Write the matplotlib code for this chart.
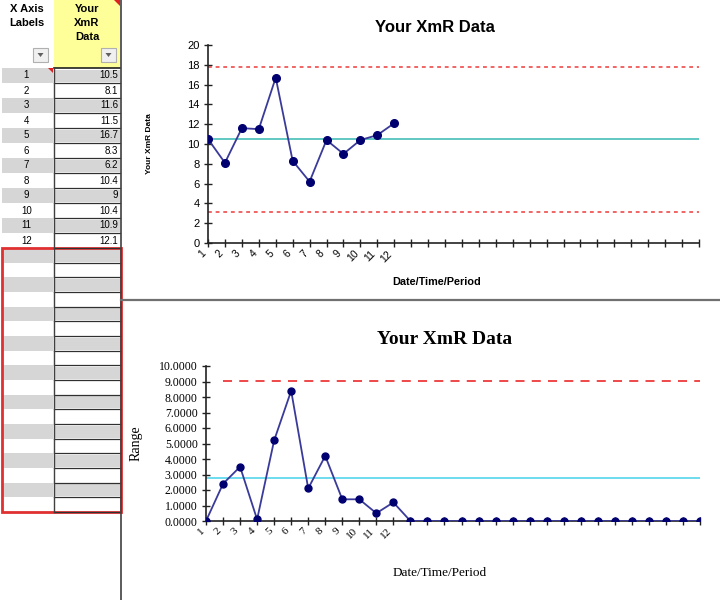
import matplotlib
matplotlib.use("Agg")
import matplotlib.pyplot as plt
from matplotlib.patches import Rectangle, Polygon
from matplotlib.ticker import FormatStrFormatter, MultipleLocator, FixedLocator, FixedFormatter

# ---------------- data ----------------
categories = list(range(1, 31))
x_labels = [str(i) for i in range(1, 13)]
xmr_values = [10.5, 8.1, 11.6, 11.5, 16.7, 8.3, 6.2, 10.4, 9, 10.4, 10.9, 12.1]
table_values = ["10.5", "8.1", "11.6", "11.5", "16.7", "8.3", "6.2", "10.4", "9", "10.4", "10.9", "12.1"]
moving_range = [0.0, 2.4, 3.5, 0.1, 5.2, 8.4, 2.1, 4.2, 1.4, 1.4, 0.5, 1.2,
                0, 0, 0, 0, 0, 0, 0, 0, 0, 0, 0, 0, 0, 0, 0, 0, 0, 0]
x_mean = 10.48
x_ucl = 17.8
x_lcl = 3.13
mr_mean = 2.76
mr_ucl = 9.03

W, H = 720, 600
fig = plt.figure(figsize=(7.2, 6), dpi=100)

# ---------------- background / table ----------------
bg = fig.add_axes([0, 0, 1, 1])
bg.set_xlim(0, W)
bg.set_ylim(H, 0)
bg.axis("off")

sans = ["Liberation Sans", "DejaVu Sans"]
serif = ["Liberation Serif", "DejaVu Serif"]

c1l, c1r, c2l, c2r = 0, 53, 54, 120
head_b = 68
row_h = 15.0
n_top = len(x_labels)
box_top = head_b + n_top * row_h
row_h2 = (512 - box_top) / (len(categories) - n_top)

# header
bg.add_patch(Rectangle((c2l, 0), c2r - c2l, head_b, facecolor="#ffff99", edgecolor="none"))
bg.text((c1l + c1r) / 2, 16, "X Axis\nLabels", ha="center", va="center", fontsize=8,
        fontweight="bold", family=sans, linespacing=1.45)
bg.text((c2l + c2r) / 2, 23, "Your\nXmR\nData", ha="center", va="center", fontsize=8,
        fontweight="bold", family=sans, linespacing=1.45)
for bx in (33, 101):
    bg.add_patch(Rectangle((bx, 48), 15, 14, facecolor="#f0f0f0", edgecolor="#b0b0b0", lw=0.8))
    bg.add_patch(Polygon([(bx + 4.5, 53), (bx + 10.5, 53), (bx + 7.5, 57)], closed=True,
                         facecolor="#606060", edgecolor="none"))
bg.add_patch(Polygon([(c2r - 6, 0), (c2r, 0), (c2r, 6)], closed=True, facecolor="#e02020", edgecolor="none"))
bg.plot([c2l, c2r], [head_b, head_b], color="#202020", lw=1.2)

# rows
for i in range(len(categories)):
    if i < n_top:
        y0 = head_b + i * row_h
        h = row_h
    else:
        y0 = box_top + (i - n_top) * row_h2
        h = row_h2
    fill = "#d6d6d6" if i % 2 == 0 else "#ffffff"
    bg.add_patch(Rectangle((c1l + 2, y0), c1r - c1l - 2, h, facecolor=fill, edgecolor="none"))
    bg.add_patch(Rectangle((c2l, y0 + 1.5), c2r - c2l, h - 2.5, facecolor=fill, edgecolor="none"))
    bg.plot([c2l, c2r], [y0 + h, y0 + h], color="#303030", lw=0.9)
    if i < n_top:
        bg.text((c1l + c1r) / 2, y0 + h / 2, x_labels[i], ha="center", va="center",
                fontsize=7, family=sans)
        bg.text(c2r - 2, y0 + h / 2, table_values[i], ha="right", va="center",
                fontsize=7, family=sans)
bg.add_patch(Polygon([(c1r - 5, head_b), (c1r, head_b), (c1r, head_b + 5)], closed=True,
                     facecolor="#e02020", edgecolor="none"))
bg.plot([c1r + 0.5, c1r + 0.5], [head_b, 512], color="#404040", lw=1.0)
# red selection box
bg.add_patch(Rectangle((1.5, box_top), 119, 512 - box_top, facecolor="none", edgecolor="#e03030", lw=2))

# separators
bg.plot([121, 121], [0, 600], color="#404040", lw=1.2)
bg.plot([121, 720], [300, 300], color="#707070", lw=1.6)

# ---------------- top chart ----------------
def fx(px):
    return px / W

def fy(py):
    return 1 - py / H

ax1 = fig.add_axes([fx(208), fy(243), fx(699) - fx(208), fy(45) - fy(243)])
ax1.patch.set_alpha(0)
ax1.plot(categories[:len(xmr_values)], xmr_values, color="#3a3a9a", lw=1.3, marker="o",
         markersize=5.5, markerfacecolor="#000070", markeredgecolor="#000070", zorder=4)
ax1.hlines(x_mean, categories[0], categories[-1], color="#45bdb8", lw=1.2, zorder=2)
ax1.hlines([x_ucl, x_lcl], categories[0], categories[-1], color="#ee3a3a", lw=1.1,
           linestyles=(0, (2.5, 2.5)), zorder=2)
ax1.set_xlim(categories[0], categories[-1])
ax1.set_ylim(0, 20)
ax1.yaxis.set_major_locator(MultipleLocator(2))
ax1.xaxis.set_major_locator(FixedLocator(categories))
ax1.xaxis.set_major_formatter(FixedFormatter(x_labels + [""] * (len(categories) - len(x_labels))))
for s in ("top", "right"):
    ax1.spines[s].set_visible(False)
for s in ("left", "bottom"):
    ax1.spines[s].set_linewidth(1.2)
    ax1.spines[s].set_color("#222222")
ax1.tick_params(axis="both", direction="inout", length=6, width=1, color="#222222")
ax1.tick_params(axis="y", labelsize=8, pad=3)
ax1.tick_params(axis="x", labelsize=7.5, pad=1)
for lab in ax1.get_xticklabels():
    lab.set_rotation(45)
    lab.set_ha("right")
    lab.set_va("top")
    lab.set_fontfamily(sans)
for lab in ax1.get_yticklabels():
    lab.set_fontfamily(sans)
ax1.set_ylabel("Your XmR Data", fontsize=6, fontweight="bold", family=sans)
ax1.yaxis.set_label_coords((153 - 208) / 491, 0.5)
ax1.set_xlabel("Date/Time/Period", fontsize=7.8, fontweight="bold", family=sans)
ax1.xaxis.set_label_coords((437 - 208) / 491, (243 - 277) / 198)
fig.text(fx(435), fy(27), "Your XmR Data", ha="center", va="center", fontsize=12,
         fontweight="bold", family=sans)

# ---------------- bottom chart ----------------
ax2 = fig.add_axes([fx(206), fy(521), fx(700) - fx(206), fy(366) - fy(521)])
ax2.patch.set_alpha(0)
ax2.plot(categories, moving_range, color="#3a3a9a", lw=1.3, marker="o",
         markersize=5, markerfacecolor="#000070", markeredgecolor="#000070", zorder=4)
ax2.hlines(mr_mean, categories[0], categories[-1], color="#55d5ea", lw=1.2, zorder=2)
ax2.hlines(mr_ucl, categories[1], categories[-1], color="#ee3a3a", lw=1.3,
           linestyles=(0, (5, 4)), zorder=2)
ax2.set_xlim(categories[0], categories[-1])
ax2.set_ylim(0, 10)
ax2.yaxis.set_major_locator(MultipleLocator(1))
ax2.yaxis.set_major_formatter(FormatStrFormatter("%.4f"))
ax2.xaxis.set_major_locator(FixedLocator(categories))
ax2.xaxis.set_major_formatter(FixedFormatter(x_labels + [""] * (len(categories) - len(x_labels))))
for s in ("top", "right"):
    ax2.spines[s].set_visible(False)
for s in ("left", "bottom"):
    ax2.spines[s].set_linewidth(1.2)
    ax2.spines[s].set_color("#222222")
ax2.tick_params(axis="both", direction="inout", length=6, width=1, color="#222222")
ax2.tick_params(axis="y", labelsize=8.5, pad=3)
ax2.tick_params(axis="x", labelsize=8, pad=1)
for lab in ax2.get_xticklabels():
    lab.set_rotation(45)
    lab.set_ha("right")
    lab.set_va("top")
    lab.set_fontfamily(serif)
for lab in ax2.get_yticklabels():
    lab.set_fontfamily(serif)
ax2.set_ylabel("Range", fontsize=10, family=serif)
ax2.yaxis.set_label_coords((143 - 206) / 494, 0.5)
ax2.set_xlabel("Date/Time/Period", fontsize=9.5, family=serif)
ax2.xaxis.set_label_coords((440 - 206) / 494, (521 - 567) / 155)
fig.text(fx(445), fy(340), "Your XmR Data", ha="center", va="center", fontsize=14,
         fontweight="bold", family=serif)

fig.savefig("out.png", dpi=100)
